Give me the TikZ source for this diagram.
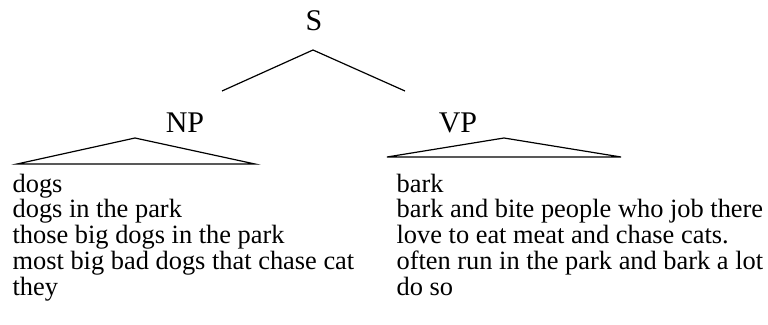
\documentclass[tikz,border=0pt]{standalone}
\usepackage{fontspec}
\setmainfont{Liberation Serif}

\begin{document}
\begin{tikzpicture}[x=1pt,y=-1pt,line width=1.2pt,
  cat/.style={font=\fontsize{30}{32}\selectfont,anchor=base},
  phrase/.style={font=\fontsize{26.4}{28}\selectfont,anchor=base west,inner sep=0pt}]
\useasboundingbox (0,0) rectangle (768,324);
\pgfmathsetmacro{\ls}{25.8};

\node[cat] (S) at (314,30) {S};
\node[cat] (NP) at (185,132) {NP};
\node[cat] (VP) at (458,132) {VP};

% branches under S
\coordinate (Stop) at (313,50);
\coordinate (Sl) at (222,91);
\coordinate (Sr) at (405,91);
\draw (Sl)--(Stop)--(Sr);

% roof over each phrase
\coordinate (NPtop) at (135,138);
\coordinate (NPl) at (17,164);
\coordinate (NPr) at (255,164);
\draw (NPl)--(NPtop)--(NPr)--cycle;

\coordinate (VPtop) at (504,138);
\coordinate (VPl) at (387,157);
\coordinate (VPr) at (621,157);
\draw (VPl)--(VPtop)--(VPr)--cycle;

\foreach \txt [count=\i] in {dogs,dogs in the park,those big dogs in the park,
  most big bad dogs that chase cat,they}
  \node[phrase] (np\i) at (12,{192+\ls*(\i-1)}) {\txt};

\foreach \txt [count=\i] in {bark,bark and bite people who job there,
  love to eat meat and chase cats.,often run in the park and bark a lot,do so}
  \node[phrase] (vp\i) at (396,{192+\ls*(\i-1)}) {\txt};
\end{tikzpicture}
\end{document}
